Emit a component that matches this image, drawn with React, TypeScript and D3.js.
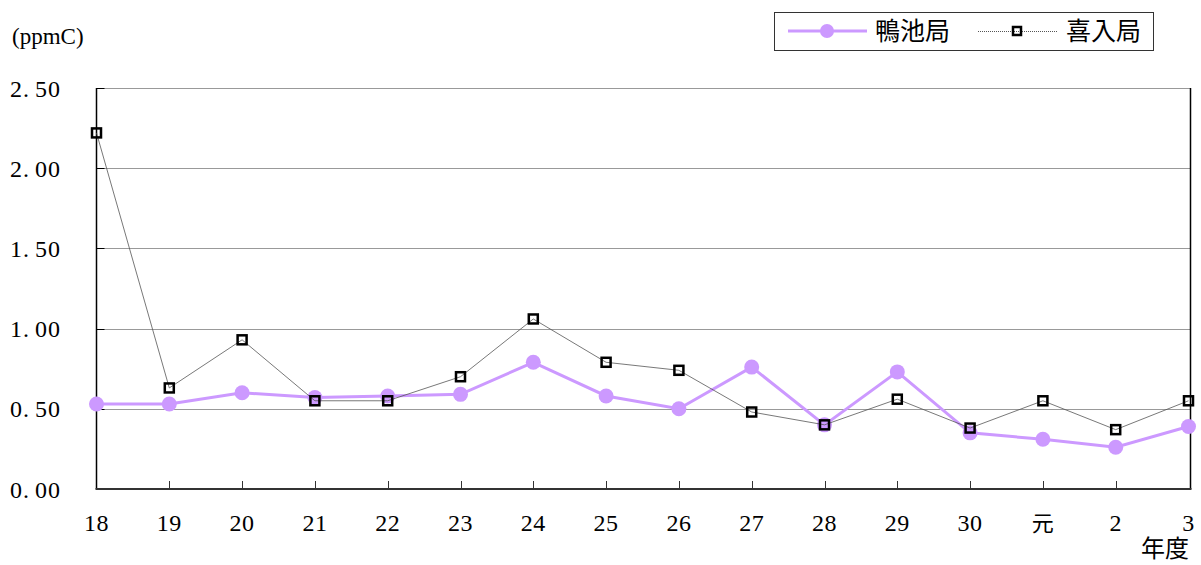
import React, { useEffect, useRef } from 'react';
import * as d3 from 'd3';

const categories = ['18', '19', '20', '21', '22', '23', '24', '25', '26', '27', '28', '29', '30', '元', '2', '3'];
const kamoike = [0.53, 0.53, 0.60, 0.57, 0.58, 0.59, 0.79, 0.58, 0.50, 0.76, 0.40, 0.73, 0.35, 0.31, 0.26, 0.39];
const kiire = [2.22, 0.63, 0.93, 0.55, 0.55, 0.70, 1.06, 0.79, 0.74, 0.48, 0.40, 0.56, 0.38, 0.55, 0.37, 0.55];
const yTicks = [0, 0.5, 1.0, 1.5, 2.0, 2.5];

const seriesNames = ['鴨池局', '喜入局'];
const purple = '#CC99FF';
const font = '"Liberation Serif", "Noto Sans CJK JP", serif';

export default function App() {
    const ref = useRef<SVGSVGElement>(null);

    useEffect(() => {
        const svg = d3.select(ref.current);
        svg.selectAll('*').remove();

        const left = 96.5, right = 1190.5, top = 88, bottom = 489;
        const lastX = 1188.5;

        const x = d3.scalePoint<string>()
            .domain(categories)
            .range([left, lastX]);

        const y = d3.scaleLinear()
            .domain([0, 2.5])
            .range([bottom, top]);

        // crisp horizontal lines
        const yc = (d: number) => Math.round(y(d)) + 0.5;

        // gridlines (dotted)
        svg.append('g')
            .selectAll('line')
            .data(yTicks.filter(d => d > 0))
            .enter()
            .append('line')
            .attr('x1', left)
            .attr('x2', right)
            .attr('y1', d => yc(d))
            .attr('y2', d => yc(d))
            .attr('stroke', '#333')
            .attr('stroke-width', 1)
            .attr('stroke-dasharray', '1,1');

        // left / right axis lines
        svg.append('line')
            .attr('x1', left).attr('x2', left)
            .attr('y1', top).attr('y2', bottom)
            .attr('stroke', '#000').attr('stroke-width', 1.5);
        svg.append('line')
            .attr('x1', right).attr('x2', right)
            .attr('y1', top).attr('y2', bottom)
            .attr('stroke', '#000').attr('stroke-width', 1.5);

        // y ticks (inward)
        svg.append('g')
            .selectAll('line')
            .data(yTicks)
            .enter()
            .append('line')
            .attr('x1', left).attr('x2', left + 8)
            .attr('y1', d => yc(d)).attr('y2', d => yc(d))
            .attr('stroke', '#000').attr('stroke-width', 1);

        // y tick labels
        const fmt = d3.format('.2f');
        const yl = svg.append('g')
            .selectAll('text')
            .data(yTicks)
            .enter()
            .append('text')
            .attr('x', 10)
            .attr('y', d => y(d) + 8.5)
            .attr('font-family', font)
            .attr('font-size', 24)
            .attr('letter-spacing', 1)
            .attr('fill', '#000');
        yl.append('tspan').text(d => fmt(d).split('.')[0]);
        yl.append('tspan').text('.');
        yl.append('tspan').attr('dx', 5).text(d => fmt(d).split('.')[1]);

        // bottom axis
        svg.append('line')
            .attr('x1', left - 1).attr('x2', right + 1)
            .attr('y1', bottom).attr('y2', bottom)
            .attr('stroke', '#333').attr('stroke-width', 2);

        svg.append('g')
            .selectAll('line')
            .data(categories.slice(1, -1))
            .enter()
            .append('line')
            .attr('x1', d => Math.round(x(d)!) + 0.5).attr('x2', d => Math.round(x(d)!) + 0.5)
            .attr('y1', bottom - 8).attr('y2', bottom)
            .attr('stroke', '#333').attr('stroke-width', 1);

        svg.append('g')
            .selectAll('text')
            .data(categories)
            .enter()
            .append('text')
            .attr('x', d => x(d)!)
            .attr('y', 531)
            .attr('text-anchor', 'middle')
            .attr('font-family', font)
            .attr('font-size', d => d === '元' ? 22 : 24)
            .attr('letter-spacing', 0.5)
            .text(d => d);

        // axis titles
        svg.append('text')
            .attr('x', 12).attr('y', 44)
            .attr('font-family', font)
            .attr('font-size', 23)
            .text('(ppmC)');

        svg.append('text')
            .attr('x', 1189).attr('y', 557)
            .attr('text-anchor', 'end')
            .attr('font-family', font)
            .attr('font-size', 24)
            .text('年度');

        // 鴨池局 series
        const line = d3.line<number>()
            .x((d, i) => x(categories[i])!)
            .y(d => y(d));

        svg.append('path')
            .datum(kamoike)
            .attr('fill', 'none')
            .attr('stroke', purple)
            .attr('stroke-width', 3)
            .attr('d', line);

        svg.append('g')
            .selectAll('circle')
            .data(kamoike)
            .enter()
            .append('circle')
            .attr('cx', (d, i) => x(categories[i])!)
            .attr('cy', d => y(d))
            .attr('r', 7.5)
            .attr('fill', purple);

        // 喜入局 series
        svg.append('path')
            .datum(kiire)
            .attr('fill', 'none')
            .attr('stroke', '#555')
            .attr('stroke-width', 0.8)
            .attr('d', line);

        svg.append('g')
            .selectAll('rect')
            .data(kiire)
            .enter()
            .append('rect')
            .attr('x', (d, i) => x(categories[i])! - 4.5)
            .attr('y', d => y(d) - 4.5)
            .attr('width', 9)
            .attr('height', 9)
            .attr('fill', 'none')
            .attr('stroke', '#000')
            .attr('stroke-width', 2.5);

        // legend
        const lg = svg.append('g');
        lg.append('rect')
            .attr('x', 774.5).attr('y', 12.5)
            .attr('width', 379).attr('height', 38)
            .attr('fill', '#fff')
            .attr('stroke', '#333').attr('stroke-width', 1);

        lg.append('line')
            .attr('x1', 788).attr('x2', 867)
            .attr('y1', 31).attr('y2', 31)
            .attr('stroke', purple).attr('stroke-width', 3);
        lg.append('circle')
            .attr('cx', 827).attr('cy', 31).attr('r', 7)
            .attr('fill', purple);
        lg.append('text')
            .attr('x', 875).attr('y', 40)
            .attr('font-family', font)
            .attr('font-size', 25)
            .text(seriesNames[0]);

        lg.append('line')
            .attr('x1', 978).attr('x2', 1058)
            .attr('y1', 31.5).attr('y2', 31.5)
            .attr('stroke', '#555').attr('stroke-width', 1)
            .attr('stroke-dasharray', '1,1');
        lg.append('rect')
            .attr('x', 1013).attr('y', 27)
            .attr('width', 8).attr('height', 8)
            .attr('fill', 'none')
            .attr('stroke', '#000').attr('stroke-width', 2.5);
        lg.append('text')
            .attr('x', 1066).attr('y', 40)
            .attr('font-family', font)
            .attr('font-size', 25)
            .text(seriesNames[1]);
    }, []);

    return (
        <svg ref={ref} width={1201} height={565} style={{ display: 'block', position: 'absolute', left: 0, top: 0 }} />
    );
}
